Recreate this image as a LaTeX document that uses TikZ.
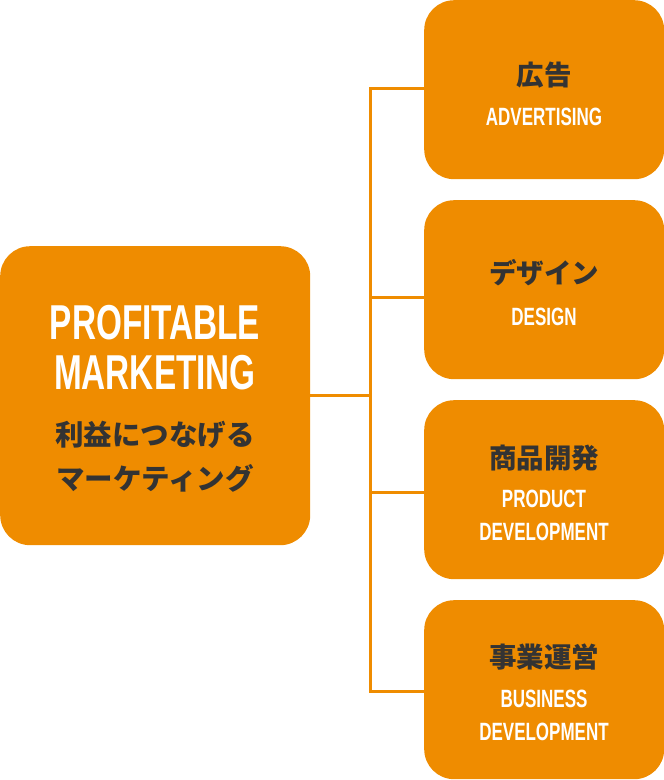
\documentclass[tikz,border=0pt]{standalone}
\usepackage{fontspec}
\newfontfamily\cond[FakeStretch=0.68]{Liberation Sans}
\newfontfamily\jp{Noto Sans CJK JP}
\definecolor{orng}{HTML}{EF8C00}
\definecolor{ink}{HTML}{333333}
\tikzset{
  boxshape/.style={fill=orng, draw=none, rounded corners=30pt, inner sep=0pt, anchor=north west},
  bigbox/.style={boxshape, minimum width=310pt, minimum height=299pt},
  smallbox/.style={boxshape, minimum width=240pt, minimum height=179pt},
  latbig/.style={text=white, font=\cond\bfseries\fontsize{49}{49}\selectfont, inner sep=0pt},
  latsmall/.style={text=white, font=\cond\bfseries\fontsize{25}{25}\selectfont, inner sep=0pt},
  jpbig/.style={text=ink, font=\jp\bfseries\fontsize{28.5}{28.5}\selectfont, inner sep=0pt},
  jpsmall/.style={text=ink, font=\jp\bfseries\fontsize{27.5}{27.5}\selectfont, inner sep=0pt},
  link/.style={draw=orng, line width=3pt}
}
\begin{document}
\begin{tikzpicture}[x=1pt,y=-1pt]
\useasboundingbox (0,0) rectangle (664,780);
% boxes
\node[bigbox] (L) at (0,246) {};
\node[smallbox] (b1) at (424,0) {};
\node[smallbox] (b2) at (424,200) {};
\node[smallbox] (b3) at (424,400) {};
\node[smallbox] (b4) at (424,600) {};
% connectors
\coordinate (j) at (370,395);
\coordinate (k1) at (370,88);
\coordinate (k2) at (370,297);
\coordinate (k3) at (370,492);
\coordinate (k4) at (370,691);
\draw[link] (L.east |- j) -- (j);
\draw[link] (k1 -| b1.west) -- (k1) -- (k4) -- (k4 -| b4.west);
\draw[link] (k2) -- (k2 -| b2.west);
\draw[link] (k3) -- (k3 -| b3.west);
% left box text
\node[latbig] (t1) at (155,323) {PROFITABLE};
\node[latbig] (t2) at (155,373) {MARKETING};
\node[jpbig] (t3) at (155,435) {利益につなげる};
\node[jpbig] (t4) at (155,478) {マーケティング};
% right boxes text
\node[jpsmall] (a1) at (544,75) {広告};
\node[latsmall] (a2) at (544,117) {ADVERTISING};
\node[jpsmall] (c1) at (544,273) {デザイン};
\node[latsmall] (c2) at (544,317) {DESIGN};
\node[jpsmall] (d1) at (544,458) {商品開発};
\node[latsmall] (d2) at (544,499) {PRODUCT};
\node[latsmall] (d3) at (544,532) {DEVELOPMENT};
\node[jpsmall] (e1) at (544,657) {事業運営};
\node[latsmall] (e2) at (544,699) {BUSINESS};
\node[latsmall] (e3) at (544,732) {DEVELOPMENT};
\end{tikzpicture}
\end{document}
